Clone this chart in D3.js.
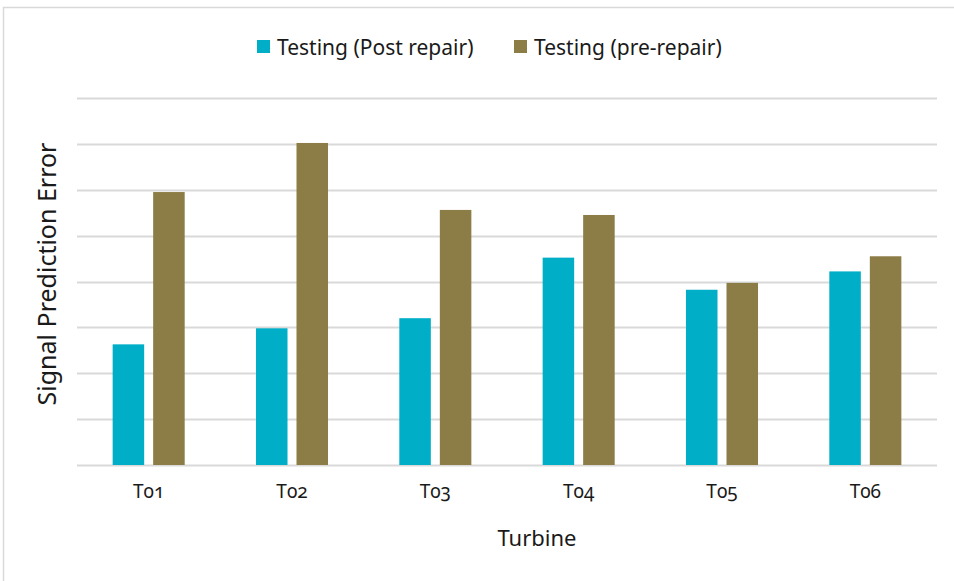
<!DOCTYPE html>
<html>
<head>
<meta charset="utf-8">
<script src="https://cdn.jsdelivr.net/npm/d3@7"></script>
<style>
  body { margin:0; background:#fff; }
  svg text { font-family:"Noto Sans", "Open Sans", sans-serif; fill:#1a1a1a; font-variant-numeric: oldstyle-nums; font-feature-settings:"onum" 1; }
</style>
</head>
<body>
<div id="chart"></div>
<script>
//Chart data (values read off the gridlines, no y labels in source)
var turbines=["T01","T02","T03","T04","T05","T06"];
var seriesNames=["Testing (Post repair)","Testing (pre-repair)"];
var postRepair=[2.63,2.98,3.20,4.52,3.82,4.22];
var preRepair=[5.95,7.02,5.56,5.45,3.97,4.55];
var yTicks=[0,1,2,3,4,5,6,7,8];

//Colors
var colors=["#00AEC7","#8B7D45"];

var w=954;
var h=581;
var margin={left:77,right:17,top:98,bottom:116};

var svg=d3.select("#chart")
          .append("svg")
          .attr("width",w)
          .attr("height",h);

//Chart area border (runs off right and bottom)
svg.append("rect")
   .attr("x",3.5)
   .attr("y",7.5)
   .attr("width",w+20)
   .attr("height",h+20)
   .attr("fill","#fff")
   .attr("stroke","#d9d9d9")
   .attr("stroke-width",1.5);

var x0=d3.scaleBand()
         .domain(turbines)
         .range([margin.left,w-margin.right]);

var x1=d3.scaleBand()
         .domain(seriesNames)
         .range([0,x0.bandwidth()])
         .paddingInner(0.222)
         .paddingOuter(0.88);

var y=d3.scaleLinear()
        .domain([0,8])
        .range([h-margin.bottom,margin.top]);

//Gridlines
svg.append("g")
   .attr("id","grid")
   .selectAll("line")
   .data(yTicks)
   .enter()
   .append("line")
   .attr("x1",margin.left)
   .attr("x2",w-margin.right)
   .attr("y1",function(d) {return Math.round(y(d))+0.5;})
   .attr("y2",function(d) {return Math.round(y(d))+0.5;})
   .style("stroke","#d9d9d9")
   .style("stroke-width",2);

//Bars
var rows=turbines.map(function(t,i) {
    return {turbine:t, values:[postRepair[i],preRepair[i]]};
});

var groups=svg.append("g")
              .attr("id","bars")
              .selectAll("g")
              .data(rows)
              .enter()
              .append("g")
              .attr("transform",function(d) {return "translate("+x0(d.turbine)+",0)";});

groups.selectAll("rect")
      .data(function(d) {return d.values.map(function(v,j) {return {name:seriesNames[j],value:v,j:j};});})
      .enter()
      .append("rect")
      .attr("x",function(d) {return x1(d.name);})
      .attr("width",x1.bandwidth())
      .attr("y",function(d) {return y(d.value);})
      .attr("height",function(d) {return y(0)-y(d.value);})
      .style("fill",function(d) {return colors[d.j];});

//X axis labels
var xAxis=svg.append("g")
             .attr("transform","translate(0,"+(h-margin.bottom)+")")
             .call(d3.axisBottom(x0).tickSize(0).tickPadding(20));
xAxis.select(".domain").remove();
xAxis.selectAll("text")
     .style("font-size","19px")
     .style("fill","#1a1a1a");

//Axis titles
svg.append("text")
   .text("Turbine")
   .attr("x",537)
   .attr("y",546)
   .attr("text-anchor","middle")
   .style("font-size","22px");

svg.append("text")
   .text("Signal Prediction Error")
   .attr("transform","translate(56,274) rotate(-90)")
   .attr("text-anchor","middle")
   .style("font-size","25px");

//Legend
var legendX=[257,514];
var legend=svg.append("g")
              .attr("id","legend")
              .selectAll("g")
              .data(seriesNames)
              .enter()
              .append("g")
              .attr("transform",function(d,i) {return "translate("+legendX[i]+",40)";});
legend.append("rect")
      .attr("width",13)
      .attr("height",13)
      .style("fill",function(d,i) {return colors[i];});
legend.append("text")
      .text(function(d) {return d;})
      .attr("x",20)
      .attr("y",7)
      .attr("dominant-baseline","central")
      .style("font-size","21px");
</script>
</body>
</html>
